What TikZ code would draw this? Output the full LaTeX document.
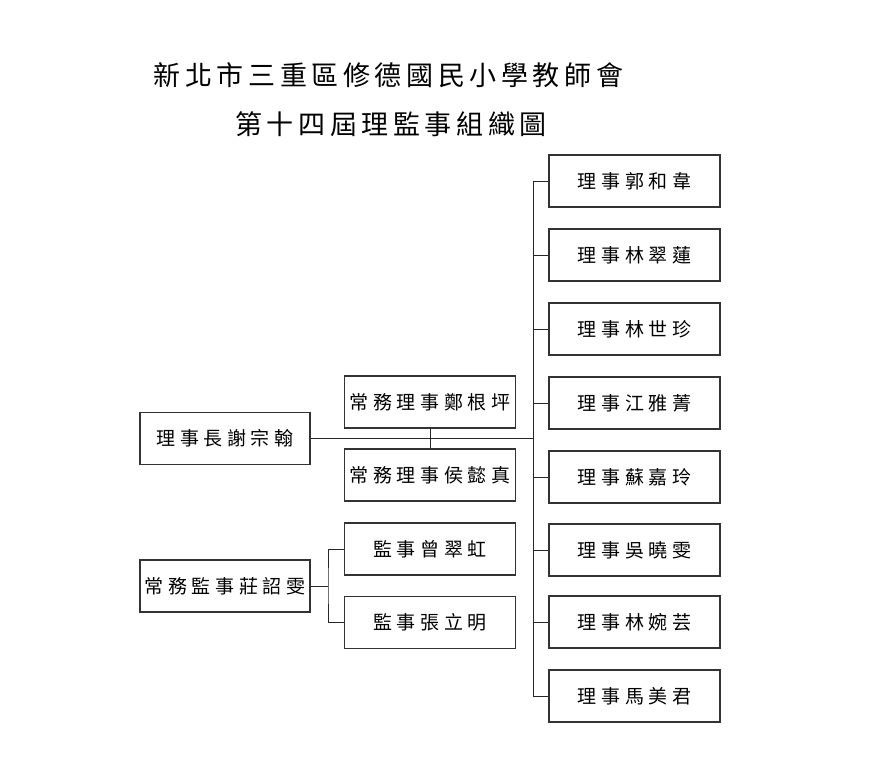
\documentclass[tikz,border=0pt]{standalone}
\usepackage{fontspec}
\newfontfamily\cjkfont{Noto Sans CJK TC}
\makeatletter
\newcommand\spreadtext[2]{\edef\sp@list{#2}\def\sp@first{1}%
  \expandafter\@tfor\expandafter\sp@c\expandafter:\expandafter=\sp@list\do{\ifnum\sp@first=1 \def\sp@first{0}\else\hspace*{#1}\fi\sp@c}}
\makeatother
\begin{document}
\begin{tikzpicture}[x=1pt,y=-1pt,
  orgbox/.style={draw=black!80,line width=1.1pt,minimum width=171pt,minimum height=52pt,inner sep=0pt,font=\cjkfont\fontsize{19}{21}\selectfont},
  link/.style={draw=black!85,line width=0.9pt},
  ttl/.style={font=\cjkfont\fontsize{27}{30}\selectfont,inner sep=0pt}]
\useasboundingbox[fill=white] (0,0) rectangle (878,768);
\node[ttl] (t1) at (388.5,75) {\spreadtext{4.6pt}{新北市三重區修德國民小學教師會}};
\node[ttl] (t2) at (391,124) {\spreadtext{4.6pt}{第十四屆理監事組織圖}};
% left column
\node[orgbox,minimum width=170pt] (chair) at (225,438.5) {\spreadtext{4.6pt}{理事長謝宗翰}};
\node[orgbox] (s1) at (430,402) {\spreadtext{4.6pt}{常務理事鄭根坪}};
\node[orgbox] (s2) at (430,475) {\spreadtext{4.6pt}{常務理事侯懿真}};
\node[orgbox,minimum width=170pt] (sup) at (225,586) {\spreadtext{4.6pt}{常務監事莊詔雯}};
\node[orgbox] (m1) at (430,549) {\spreadtext{4.6pt}{監事曾翠虹}};
\node[orgbox] (m2) at (430,622.5) {\spreadtext{4.6pt}{監事張立明}};
% right column
\foreach \n/\y/\t in {r1/181/理事郭和韋,r2/255/理事林翠蓮,r3/329/理事林世珍,r4/403/理事江雅菁,r5/477/理事蘇嘉玲,r6/550/理事吳曉雯,r7/622/理事林婉芸,r8/696/理事馬美君}
  \node[orgbox] (\n) at (634.5,\y) {\spreadtext{4.6pt}{\t}};
\coordinate (trunktop) at (533,181);
\coordinate (trunkbot) at (533,696);
\draw[link] (trunktop) -- (trunkbot);
\foreach \n in {r1,r2,r3,r4,r5,r6,r7,r8}
  \draw[link] (\n.west) -- (\n.west -| trunktop);
\draw[link] (chair.east) -- (chair.east -| trunktop);
\draw[link] (s1.south) -- (s2.north);
\coordinate (sj) at (328,586);
\draw[link] (sup.east) -- (sj);
\draw[link] (m1.west) -| (sj) |- (m2.west);
\end{tikzpicture}
\end{document}
